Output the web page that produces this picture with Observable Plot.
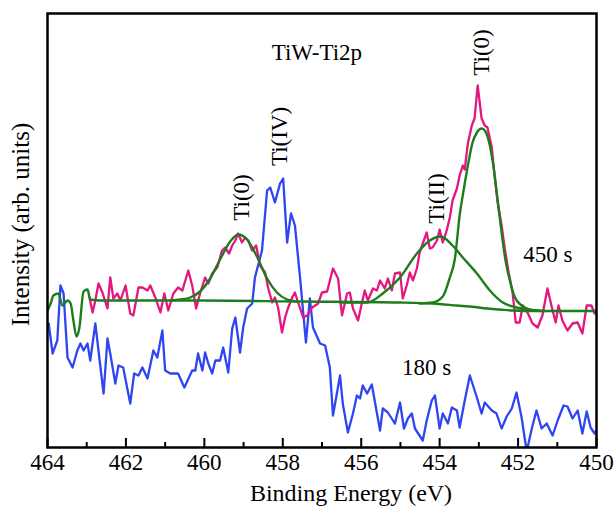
<!DOCTYPE html>
<html>
<head>
<meta charset="utf-8">
<script src="https://cdn.jsdelivr.net/npm/d3@7"></script>
<script src="https://cdn.jsdelivr.net/npm/@observablehq/plot@0.6"></script>
<style>
  html, body { margin: 0; padding: 0; background: #fff; }
</style>
</head>
<body>
<div id="chart"></div>
<script>
// ---- 180 s spectrum (blue) ----
const blueEV = [463.97,463.87,463.75,463.67,463.59,463.49,463.36,463.24,463.16,463.08,462.98,462.91,462.78,462.70,462.57,462.47,462.40,462.27,462.19,462.07,461.89,461.79,461.68,461.58,461.45,461.30,461.20,461.07,461.00,460.87,460.67,460.51,460.31,460.23,460.16,460.05,459.98,459.90,459.80,459.72,459.60,459.52,459.39,459.29,459.21,459.09,459.01,458.91,458.78,458.71,458.53,458.40,458.32,458.20,458.07,457.99,457.89,457.79,457.69,457.56,457.41,457.31,457.23,457.05,456.92,456.80,456.72,456.54,456.47,456.34,456.21,456.11,456.03,455.96,455.85,455.73,455.52,455.45,455.32,455.19,455.14,455.01,454.91,454.81,454.71,454.63,454.43,454.33,454.20,454.12,454.00,453.92,453.79,453.69,453.56,453.49,453.36,453.23,453.05,452.93,452.85,452.67,452.55,452.42,452.29,452.16,452.04,451.91,451.78,451.65,451.53,451.40,451.27,451.12,450.99,450.84,450.74,450.61,450.48,450.36,450.25,450.15,450.05,450.00];
const blueI = [122,92,105,160,152,88,78,95,102,95,102,85,122,95,52,107,92,62,80,78,42,72,70,78,67,95,88,115,75,72,72,58,75,75,92,75,93,82,72,85,85,98,73,117,128,93,118,137,142,168,195,255,258,243,262,267,203,232,220,168,103,147,118,102,100,78,30,70,42,13,32,50,47,60,52,61,15,37,33,25,22,43,17,27,32,17,5,25,45,50,17,32,22,38,35,18,45,70,48,32,43,35,32,17,29,37,53,28,-6,17,35,17,22,10,25,40,39,27,35,12,34,18,12,15];

// ---- 450 s spectrum (magenta) ----
const magentaEV = [462.93,462.85,462.78,462.70,462.60,462.47,462.40,462.32,462.22,462.14,462.01,461.89,461.81,461.68,461.58,461.45,461.38,461.25,461.12,461.02,460.92,460.79,460.67,460.56,460.41,460.31,460.21,460.11,459.98,459.90,459.80,459.67,459.55,459.47,459.37,459.29,459.21,459.14,459.04,458.96,458.88,458.78,458.68,458.58,458.45,458.37,458.27,458.20,458.12,458.02,457.94,457.87,457.76,457.69,457.61,457.48,457.38,457.25,457.10,457.00,456.87,456.72,456.59,456.49,456.36,456.29,456.21,456.08,455.98,455.91,455.83,455.70,455.60,455.52,455.40,455.32,455.22,455.14,455.01,454.94,454.84,454.76,454.68,454.58,454.51,454.43,454.33,454.25,454.18,454.07,454.00,453.92,453.82,453.74,453.67,453.56,453.49,453.41,453.36,453.28,453.18,453.11,453.03,452.93,452.85,452.78,452.67,452.60,452.52,452.42,452.34,452.24,452.14,452.06,451.96,451.88,451.76,451.63,451.50,451.38,451.25,451.15,451.04,450.97,450.87,450.74,450.61,450.48,450.36,450.25,450.13,450.05,450.00];
const magentaI = [148,133,145,162,153,137,168,147,152,145,160,132,130,158,158,155,160,148,133,152,135,152,158,155,175,160,137,152,168,162,172,178,195,198,192,200,205,212,203,208,205,195,200,180,173,157,143,148,138,113,128,137,148,153,143,128,130,138,142,153,154,177,167,130,152,153,137,125,143,155,145,157,155,165,157,167,155,172,173,147,160,173,165,177,193,202,213,197,198,205,216,203,215,228,245,257,270,280,276,302,320,327,360,327,320,318,298,270,243,220,197,173,153,123,123,140,133,122,118,130,157,140,123,140,125,115,122,123,112,140,140,132,135];

// ---- green: smoothed leading part + background ----
const bgEV = [464.00,463.92,463.85,463.72,463.62,463.49,463.41,463.34,463.26,463.19,463.08,462.98,462.91,462.65,460.11,457.56,455.01,454.18,453.56,453.11,452.80,452.47,452.14,451.45,450.00];
const bgI  = [135,142,150,152,140,145,142,125,109,117,154,156,146,145,145,144,143,142,140,138.5,137,136,135,134.5,134.5];

// ---- green fit components ----
const ti0aEV = [460.87,460.61,460.36,460.11,459.85,459.60,459.34,459.14,458.91,458.66,458.40,458.15,457.89,457.64];
const ti0aI  = [145,146,148,154,167,186,204,211,206,189,167,153,146,144];

const ti2EV = [456.54,455.85,455.45,455.01,454.58,454.25,453.97,453.67,453.41,453.05,452.72,452.39,452.04,451.78,451.32];
const ti2I  = [143,143,152,168,192,205,209,200,188,172,155,143,138,136,134.5];

const ti0bEV = [454.51,454.18,453.92,453.74,453.61,453.49,453.39,453.28,453.16,453.05,452.93,452.83,452.72,452.62,452.52,452.42,452.32,452.21,452.09,451.91,451.71,451.45];
const ti0bI  = [142,143,149,168,187,230,255,280,303,313,317,314,300,277,245,213,185,165,149,140,136,134.5];

// ---- annotations ----
const peakLabels = ["Ti(0)", "Ti(IV)", "Ti(II)", "Ti(0)"];
const peakLabelEV = [459.06, 458.07, 454.07, 452.93];
const peakLabelI  = [248, 309, 247, 393];

const notes = ["TiW-Ti2p", "450 s", "180 s"];
const noteEV = [457.13, 451.24, 454.33];
const noteI  = [393, 191, 78];

const majorTicks = [464, 462, 460, 458, 456, 454, 452, 450];
const minorTicks = [463, 461, 459, 457, 455, 453, 451];

const xTitle = "Binding Energy (eV)";
const yTitle = "Intensity (arb. units)";

const zip = (xs, ys) => xs.map((x, i) => ({x, y: ys[i]}));
const blue = zip(blueEV, blueI);
const magenta = zip(magentaEV, magentaI);
const bg = zip(bgEV, bgI);
const comps = [zip(ti0aEV, ti0aI), zip(ti2EV, ti2I), zip(ti0bEV, ti0bI)];
const peaks = peakLabels.map((t, i) => ({t, x: peakLabelEV[i], y: peakLabelI[i]}));
const noteData = notes.map((t, i) => ({t, x: noteEV[i], y: noteI[i]}));

const FONT = "'Liberation Serif', 'Times New Roman', Times, serif";
const BLUE = "#2e45f2";
const PINK = "#e3177f";
const GREEN = "#1d7d1d";

const chart = Plot.plot({
  width: 614,
  height: 508,
  marginLeft: 47,
  marginRight: 18,
  marginTop: 13,
  marginBottom: 61,
  style: {fontFamily: FONT, background: "#fff", color: "#000"},
  x: {domain: [464, 450]},
  y: {domain: [-2, 432], axis: null},
  marks: [
    Plot.line(blue, {x: "x", y: "y", stroke: BLUE, strokeWidth: 2.3, clip: true}),
    Plot.line(magenta, {x: "x", y: "y", stroke: PINK, strokeWidth: 2.3, clip: true}),
    Plot.line(bg, {x: "x", y: "y", stroke: GREEN, strokeWidth: 2.4, clip: true, curve: "monotone-x"}),
    ...comps.map(c => Plot.line(c, {x: "x", y: "y", stroke: GREEN, strokeWidth: 2.4, curve: "monotone-x", clip: true})),
    Plot.text(peaks, {x: "x", y: "y", text: "t", rotate: -90, fontSize: 23, fill: "#000", textAnchor: "middle", lineAnchor: "middle"}),
    Plot.text(noteData, {x: "x", y: "y", text: "t", fontSize: 23, fill: "#000", textAnchor: "middle", lineAnchor: "middle"}),
    Plot.axisX({ticks: majorTicks, tickSize: 0, tickPadding: 6, fontSize: 23, label: null, tickFormat: d => String(d)}),
    Plot.axisX({ticks: majorTicks, tickSize: -9, strokeWidth: 2, tickFormat: () => "", label: null}),
    Plot.axisX({ticks: minorTicks, tickSize: -5, strokeWidth: 2, tickFormat: () => "", label: null}),
    Plot.text([xTitle], {x: [456.26], frameAnchor: "bottom", dy: 46, fontSize: 24, fill: "#000", textAnchor: "middle", lineAnchor: "middle"}),
    Plot.text([yTitle], {y: [221], frameAnchor: "left", dx: -27, rotate: -90, fontSize: 25, fill: "#000", textAnchor: "middle", lineAnchor: "middle"}),
    Plot.frame({stroke: "#000", strokeWidth: 2.5})
  ]
});
document.getElementById("chart").appendChild(chart);
</script>
</body>
</html>
